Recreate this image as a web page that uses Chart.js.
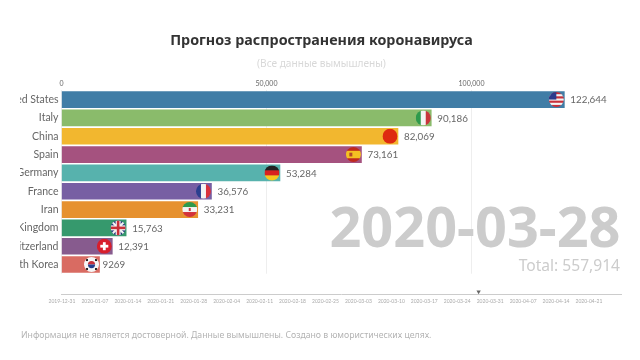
<!DOCTYPE html>
<html>
<head>
<meta charset="utf-8">
<script src="https://cdn.jsdelivr.net/npm/chart.js@4"></script>
<style>
    html, body { margin: 0; padding: 0; background: #fff; width: 640px; height: 360px; overflow: hidden; }
    body { position: relative; font-family: "Noto Sans", sans-serif; }
    canvas { position: absolute; }
    #barChart { left: 20px; top: 70px; filter: blur(0.35px); }
    #timeChart { left: 47px; top: 285px; filter: blur(0.5px); }
    .txt { position: absolute; white-space: nowrap; filter: blur(0.3px); }
    #title { left: 0; width: 643px; top: 28.5px; text-align: center; font-size: 14.3px; line-height: 22px; font-weight: 700; color: #333; }
    #subtitle { left: 0; width: 643px; top: 55px; text-align: center; font-size: 10.1px; line-height: 16px; color: #d8d8d8; }
    #date { right: 19.5px; top: 186.5px; font-size: 55.8px; line-height: 76px; font-weight: 700; color: #ccc; }
    #total { right: 20px; top: 253px; font-size: 15.6px; line-height: 24px; color: #ccc; }
    #note { left: 21px; top: 327px; font-size: 8.7px; line-height: 16px; color: #b4b4b4; }
</style>
</head>
<body>
<canvas id="barChart" width="620" height="213"></canvas>
<canvas id="timeChart" width="593" height="30"></canvas>
<div class="txt" id="title">Прогноз распространения коронавируса</div>
<div class="txt" id="subtitle">(Все данные вымышлены)</div>
<div class="txt" id="date">2020-03-28</div>
<div class="txt" id="total">Total: 557,914</div>
<div class="txt" id="note">Информация не является достоверной. Данные вымышлены. Создано в юмористических целях.</div>

<script>
const countries = ['United States', 'Italy', 'China', 'Spain', 'Germany', 'France', 'Iran', 'United Kingdom', 'Switzerland', 'South Korea'];
const cases = [122644, 90186, 82069, 73161, 53284, 36576, 33231, 15763, 12391, 9269];
const barColors = ['#417da6', '#8abb6b', '#f2b72f', '#a5527f', '#57b2ad', '#775fa3', '#e6912f', '#36996d', '#875b8e', '#d96b62'];
const axisTicks = [0, 50000, 100000];
const weekLabels = ['2019-12-31', '2020-01-07', '2020-01-14', '2020-01-21', '2020-01-28', '2020-02-04',
    '2020-02-11', '2020-02-18', '2020-02-25', '2020-03-03', '2020-03-10', '2020-03-17', '2020-03-24',
    '2020-03-31', '2020-04-07', '2020-04-14', '2020-04-21'];
const currentWeek = 12.65; // marker on the timeline, in weeks from the first label

function stripes(ctx, r, list, vertical) {
    const n = list.length;
    list.forEach((c, i) => {
        ctx.fillStyle = c;
        if (vertical) ctx.fillRect(-r + 2 * r * i / n, -r, 2 * r / n + 0.5, 2 * r);
        else ctx.fillRect(-r, -r + 2 * r * i / n, 2 * r, 2 * r / n + 0.5);
    });
}

const flagDrawers = {
    'United States': (ctx, r) => {
        stripes(ctx, r, ['#c8303a', '#f4f4f4', '#c8303a', '#f4f4f4', '#c8303a', '#f4f4f4', '#c8303a'], false);
        ctx.fillStyle = '#2c3a8c';
        ctx.fillRect(-r, -r, r, r);
    },
    'Italy': (ctx, r) => stripes(ctx, r, ['#2f9a4c', '#f4f4f4', '#c8353c'], true),
    'China': (ctx, r) => {
        ctx.fillStyle = '#de2a10';
        ctx.fillRect(-r, -r, 2 * r, 2 * r);
    },
    'Spain': (ctx, r) => {
        stripes(ctx, r, ['#c0281c', '#f4c022', '#f4c022', '#c0281c'], false);
        ctx.fillStyle = '#b5482a';
        ctx.fillRect(-r * 0.55, -r * 0.25, r * 0.4, r * 0.5);
    },
    'Germany': (ctx, r) => stripes(ctx, r, ['#222', '#d8211f', '#f6c71c'], false),
    'France': (ctx, r) => stripes(ctx, r, ['#2b3f8f', '#f4f4f4', '#d9313c'], true),
    'Iran': (ctx, r) => {
        stripes(ctx, r, ['#2f9a4c', '#f4f4f4', '#d3323a'], false);
        ctx.fillStyle = '#c8353c';
        ctx.fillRect(-1, -1.5, 2, 3);
    },
    'United Kingdom': (ctx, r) => {
        ctx.fillStyle = '#2b3a7e';
        ctx.fillRect(-r, -r, 2 * r, 2 * r);
        ctx.strokeStyle = '#f4f4f4';
        ctx.lineWidth = 2;
        ctx.beginPath();
        ctx.moveTo(-r, -r); ctx.lineTo(r, r);
        ctx.moveTo(r, -r); ctx.lineTo(-r, r);
        ctx.stroke();
        ctx.fillStyle = '#f4f4f4';
        ctx.fillRect(-r, -2.5, 2 * r, 5);
        ctx.fillRect(-2.5, -r, 5, 2 * r);
        ctx.fillStyle = '#c8303a';
        ctx.fillRect(-r, -1.3, 2 * r, 2.6);
        ctx.fillRect(-1.3, -r, 2.6, 2 * r);
    },
    'Switzerland': (ctx, r) => {
        ctx.fillStyle = '#d81e2c';
        ctx.fillRect(-r, -r, 2 * r, 2 * r);
        ctx.fillStyle = '#fff';
        ctx.fillRect(-4, -1.4, 8, 2.8);
        ctx.fillRect(-1.4, -4, 2.8, 8);
    },
    'South Korea': (ctx, r) => {
        ctx.fillStyle = '#f6f6f6';
        ctx.fillRect(-r, -r, 2 * r, 2 * r);
        ctx.fillStyle = '#c8303a';
        ctx.beginPath(); ctx.arc(0, 0, 3.6, Math.PI, 0); ctx.fill();
        ctx.fillStyle = '#24408f';
        ctx.beginPath(); ctx.arc(0, 0, 3.6, 0, Math.PI); ctx.fill();
        ctx.fillStyle = '#222';
        [[-5.5, -5.5], [3.5, -5.5], [-5.5, 3.5], [3.5, 3.5]].forEach(p => ctx.fillRect(p[0], p[1], 2, 2));
    }
};

function formatValue(v) {
    return v < 10000 ? String(v) : v.toLocaleString('en-US');
}

// flags and value labels at the end of each bar
const barEndPlugin = {
    id: 'barEnd',
    afterDatasetsDraw(chart) {
        const ctx = chart.ctx;
        const r = 7.5;
        chart.getDatasetMeta(0).data.forEach((bar, i) => {
            ctx.save();
            ctx.translate(bar.x - 8, bar.y);
            ctx.beginPath();
            ctx.arc(0, 0, r, 0, Math.PI * 2);
            ctx.clip();
            flagDrawers[countries[i]](ctx, r);
            ctx.restore();

            ctx.save();
            ctx.fillStyle = '#666';
            ctx.font = '9.8px Lato';
            ctx.textBaseline = 'middle';
            ctx.fillText(formatValue(cases[i]), bar.x + (cases[i] < 10000 ? 3 : 6), bar.y + 0.5);
            ctx.restore();
        });
    }
};

new Chart(document.getElementById('barChart').getContext('2d'), {
    type: 'bar',
    data: {
        labels: countries,
        datasets: [{
            data: cases,
            backgroundColor: barColors,
            barThickness: 16,
            borderWidth: 0
        }]
    },
    options: {
        indexAxis: 'y',
        responsive: false,
        animation: false,
        layout: { autoPadding: false, padding: { top: 0, right: 4.5, bottom: 3.6, left: 0 } },
        plugins: { legend: { display: false }, tooltip: { enabled: false }, title: { display: false } },
        scales: {
            x: {
                position: 'top',
                min: 0,
                max: 140000,
                afterFit(axis) { axis.height = 20.4; },
                afterBuildTicks(axis) { axis.ticks = axisTicks.map(v => ({ value: v })); },
                grid: { color: '#eeeeee', drawTicks: false },
                border: { display: false },
                ticks: {
                    maxRotation: 0,
                    padding: 2,
                    color: '#666',
                    font: { family: 'Lato', size: 7 },
                    callback: v => v.toLocaleString('en-US')
                }
            },
            y: {
                afterFit(axis) { axis.width = 41.5; },
                grid: { display: false, drawTicks: false },
                border: { display: false },
                ticks: {
                    autoSkip: false,
                    padding: 3,
                    color: '#666',
                    font: { family: 'Lato', size: 10.5 }
                }
            }
        }
    },
    plugins: [barEndPlugin]
});

new Chart(document.getElementById('timeChart').getContext('2d'), {
    type: 'scatter',
    data: {
        datasets: [{
            data: [{ x: currentWeek, y: 0.3 }],
            pointStyle: 'triangle',
            rotation: 180,
            radius: 2.5,
            backgroundColor: '#666',
            borderWidth: 0
        }]
    },
    options: {
        responsive: false,
        animation: false,
        layout: { autoPadding: false, padding: { top: 0, right: 18.1, bottom: 8.3, left: 10.5 } },
        plugins: { legend: { display: false }, tooltip: { enabled: false } },
        scales: {
            x: {
                min: 0,
                max: weekLabels.length,
                afterFit(axis) { axis.height = 12; },
                grid: { display: false, tickLength: 2, tickColor: '#ccc' },
                border: { display: true, color: '#ccc' },
                ticks: {
                    stepSize: 1,
                    autoSkip: false,
                    maxRotation: 0,
                    padding: 1.5,
                    color: '#aaa',
                    font: { family: 'Lato', size: 5 },
                    callback: v => weekLabels[v] || ''
                }
            },
            y: { display: false, min: 0, max: 1 }
        }
    }
});
</script>
</body>
</html>
